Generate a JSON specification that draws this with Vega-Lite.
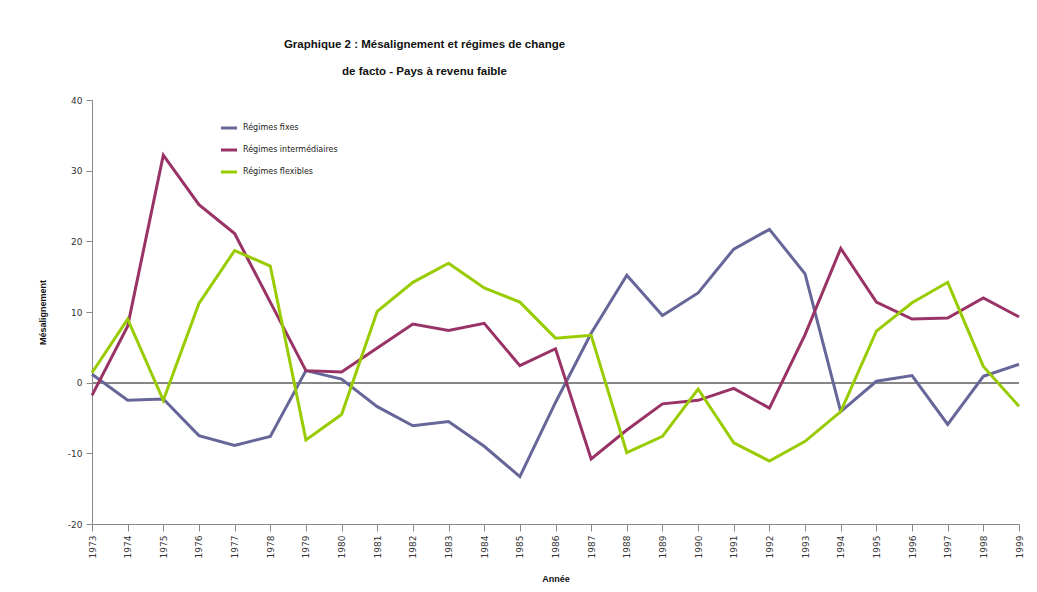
{
  "$schema": "https://vega.github.io/schema/vega-lite/v6.json",
  "autosize": "none",
  "width": 927,
  "height": 424,
  "padding": {"left": 92, "top": 100, "right": 18, "bottom": 68},
  "background": "white",
  "config": {
    "font": "Liberation Sans",
    "view": {"stroke": null},
    "axis": {"domainColor": "#888888", "tickColor": "#888888", "labelColor": "#333333", "labelFont": "DejaVu Sans", "labelFontSize": 9, "titleFont": "Liberation Sans", "titleFontSize": 9, "titleFontWeight": "bold", "titleColor": "#111111", "labelExpr": "replace(datum.label, '−', '-')"}
  },
  "title": {
    "text": ["Graphique 2 : Mésalignement et régimes de change", "de facto - Pays à revenu faible"],
    "fontSize": 11.5,
    "fontWeight": "bold",
    "font": "Liberation Sans",
    "lineHeight": 27,
    "anchor": "middle",
    "frame": "group",
    "dx": -131,
    "offset": 19,
    "color": "#111111"
  },
  "data": {
    "values": [
      {"annee": "1973", "regime": "Régimes fixes", "v": 1.2},
      {"annee": "1974", "regime": "Régimes fixes", "v": -2.5},
      {"annee": "1975", "regime": "Régimes fixes", "v": -2.3},
      {"annee": "1976", "regime": "Régimes fixes", "v": -7.5},
      {"annee": "1977", "regime": "Régimes fixes", "v": -8.9},
      {"annee": "1978", "regime": "Régimes fixes", "v": -7.6},
      {"annee": "1979", "regime": "Régimes fixes", "v": 1.7},
      {"annee": "1980", "regime": "Régimes fixes", "v": 0.5},
      {"annee": "1981", "regime": "Régimes fixes", "v": -3.4},
      {"annee": "1982", "regime": "Régimes fixes", "v": -6.1},
      {"annee": "1983", "regime": "Régimes fixes", "v": -5.5},
      {"annee": "1984", "regime": "Régimes fixes", "v": -9.0},
      {"annee": "1985", "regime": "Régimes fixes", "v": -13.3},
      {"annee": "1986", "regime": "Régimes fixes", "v": -2.8},
      {"annee": "1987", "regime": "Régimes fixes", "v": 7.0},
      {"annee": "1988", "regime": "Régimes fixes", "v": 15.2},
      {"annee": "1989", "regime": "Régimes fixes", "v": 9.5},
      {"annee": "1990", "regime": "Régimes fixes", "v": 12.7},
      {"annee": "1991", "regime": "Régimes fixes", "v": 18.9},
      {"annee": "1992", "regime": "Régimes fixes", "v": 21.7},
      {"annee": "1993", "regime": "Régimes fixes", "v": 15.4},
      {"annee": "1994", "regime": "Régimes fixes", "v": -4.1},
      {"annee": "1995", "regime": "Régimes fixes", "v": 0.2},
      {"annee": "1996", "regime": "Régimes fixes", "v": 1.0},
      {"annee": "1997", "regime": "Régimes fixes", "v": -5.9},
      {"annee": "1998", "regime": "Régimes fixes", "v": 0.9},
      {"annee": "1999", "regime": "Régimes fixes", "v": 2.6},
      {"annee": "1973", "regime": "Régimes intermédiaires", "v": -1.8},
      {"annee": "1974", "regime": "Régimes intermédiaires", "v": 8.0},
      {"annee": "1975", "regime": "Régimes intermédiaires", "v": 32.2},
      {"annee": "1976", "regime": "Régimes intermédiaires", "v": 25.2},
      {"annee": "1977", "regime": "Régimes intermédiaires", "v": 21.1},
      {"annee": "1978", "regime": "Régimes intermédiaires", "v": 11.4},
      {"annee": "1979", "regime": "Régimes intermédiaires", "v": 1.7},
      {"annee": "1980", "regime": "Régimes intermédiaires", "v": 1.5},
      {"annee": "1981", "regime": "Régimes intermédiaires", "v": 4.9},
      {"annee": "1982", "regime": "Régimes intermédiaires", "v": 8.3},
      {"annee": "1983", "regime": "Régimes intermédiaires", "v": 7.4},
      {"annee": "1984", "regime": "Régimes intermédiaires", "v": 8.4},
      {"annee": "1985", "regime": "Régimes intermédiaires", "v": 2.4},
      {"annee": "1986", "regime": "Régimes intermédiaires", "v": 4.8},
      {"annee": "1987", "regime": "Régimes intermédiaires", "v": -10.8},
      {"annee": "1988", "regime": "Régimes intermédiaires", "v": -6.7},
      {"annee": "1989", "regime": "Régimes intermédiaires", "v": -3.0},
      {"annee": "1990", "regime": "Régimes intermédiaires", "v": -2.5},
      {"annee": "1991", "regime": "Régimes intermédiaires", "v": -0.8},
      {"annee": "1992", "regime": "Régimes intermédiaires", "v": -3.6},
      {"annee": "1993", "regime": "Régimes intermédiaires", "v": 6.8},
      {"annee": "1994", "regime": "Régimes intermédiaires", "v": 19.0},
      {"annee": "1995", "regime": "Régimes intermédiaires", "v": 11.4},
      {"annee": "1996", "regime": "Régimes intermédiaires", "v": 9.0},
      {"annee": "1997", "regime": "Régimes intermédiaires", "v": 9.15},
      {"annee": "1998", "regime": "Régimes intermédiaires", "v": 12.0},
      {"annee": "1999", "regime": "Régimes intermédiaires", "v": 9.3},
      {"annee": "1973", "regime": "Régimes flexibles", "v": 1.4},
      {"annee": "1974", "regime": "Régimes flexibles", "v": 9.0},
      {"annee": "1975", "regime": "Régimes flexibles", "v": -2.5},
      {"annee": "1976", "regime": "Régimes flexibles", "v": 11.2},
      {"annee": "1977", "regime": "Régimes flexibles", "v": 18.7},
      {"annee": "1978", "regime": "Régimes flexibles", "v": 16.5},
      {"annee": "1979", "regime": "Régimes flexibles", "v": -8.1},
      {"annee": "1980", "regime": "Régimes flexibles", "v": -4.5},
      {"annee": "1981", "regime": "Régimes flexibles", "v": 10.1},
      {"annee": "1982", "regime": "Régimes flexibles", "v": 14.2},
      {"annee": "1983", "regime": "Régimes flexibles", "v": 16.9},
      {"annee": "1984", "regime": "Régimes flexibles", "v": 13.4},
      {"annee": "1985", "regime": "Régimes flexibles", "v": 11.4},
      {"annee": "1986", "regime": "Régimes flexibles", "v": 6.3},
      {"annee": "1987", "regime": "Régimes flexibles", "v": 6.7},
      {"annee": "1988", "regime": "Régimes flexibles", "v": -9.9},
      {"annee": "1989", "regime": "Régimes flexibles", "v": -7.6},
      {"annee": "1990", "regime": "Régimes flexibles", "v": -0.9},
      {"annee": "1991", "regime": "Régimes flexibles", "v": -8.5},
      {"annee": "1992", "regime": "Régimes flexibles", "v": -11.1},
      {"annee": "1993", "regime": "Régimes flexibles", "v": -8.3},
      {"annee": "1994", "regime": "Régimes flexibles", "v": -4.1},
      {"annee": "1995", "regime": "Régimes flexibles", "v": 7.3},
      {"annee": "1996", "regime": "Régimes flexibles", "v": 11.3},
      {"annee": "1997", "regime": "Régimes flexibles", "v": 14.2},
      {"annee": "1998", "regime": "Régimes flexibles", "v": 2.3},
      {"annee": "1999", "regime": "Régimes flexibles", "v": -3.35}
    ]
  },
  "layer": [
    {
      "mark": {"type": "rule", "color": "#888888", "strokeWidth": 1},
      "encoding": {"y": {"datum": 0, "type": "quantitative"}}
    },
    {
      "mark": {"type": "line", "strokeWidth": 3, "strokeJoin": "miter"},
      "encoding": {
        "x": {
          "field": "annee", "type": "ordinal", "sort": "ascending",
          "scale": {"type": "point", "padding": 0},
          "axis": {"title": "Année", "labelAngle": -90, "labelAlign": "right", "labelBaseline": "middle", "tickSize": 7, "labelPadding": 4, "titlePadding": 17, "grid": false}
        },
        "y": {
          "field": "v", "type": "quantitative",
          "scale": {"domain": [-20, 40], "nice": false, "zero": false},
          "axis": {"title": "Mésalignement", "values": [-20, -10, 0, 10, 20, 30, 40], "tickSize": 6, "labelPadding": 4, "titlePadding": 20, "grid": false}
        },
        "color": {
          "field": "regime", "type": "nominal",
          "sort": ["Régimes fixes", "Régimes intermédiaires", "Régimes flexibles"],
          "scale": {"domain": ["Régimes fixes", "Régimes intermédiaires", "Régimes flexibles"], "range": ["#666699", "#993366", "#99CC00"]},
          "legend": {
            "title": null, "orient": "none", "legendX": 127, "legendY": 18,
            "symbolType": "stroke", "symbolStrokeWidth": 3, "symbolSize": 260,
            "labelFont": "DejaVu Sans", "labelFontSize": 8, "labelColor": "#222222",
            "rowPadding": 6, "labelOffset": 4
          }
        }
      }
    }
  ]
}
